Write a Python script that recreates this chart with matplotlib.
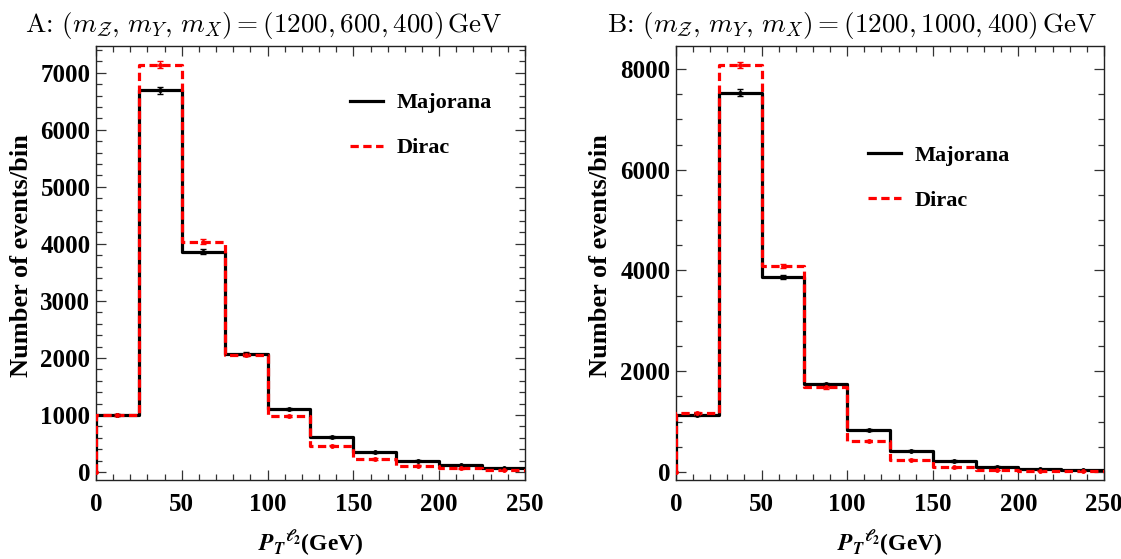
import numpy as np
import matplotlib
matplotlib.use("Agg")
import matplotlib.pyplot as plt
from matplotlib.ticker import MultipleLocator

edges = [0, 25, 50, 75, 100, 125, 150, 175, 200, 225, 250]

maj_A = [1000, 6690, 3860, 2070, 1105, 615, 345, 200, 120, 65]
dir_A = [1000, 7140, 4040, 2060, 980, 465, 230, 110, 65, 35]
maj_A_err = [25, 60, 45, 32, 24, 18, 13, 10, 8, 6]
dir_A_err = [25, 62, 46, 32, 23, 16, 11, 8, 6, 5]

maj_B = [1140, 7530, 3870, 1745, 835, 425, 218, 105, 55, 40]
dir_B = [1165, 8080, 4090, 1680, 615, 240, 95, 42, 28, 20]
maj_B_err = [25, 65, 46, 30, 22, 15, 11, 8, 6, 5]
dir_B_err = [25, 68, 47, 30, 19, 12, 8, 5, 4, 3]

titles = [r"A: $(m_{\mathcal{Z}},\, m_Y,\, m_X) = (1200, 600, 400)\,\mathrm{GeV}$",
          r"B: $(m_{\mathcal{Z}},\, m_Y,\, m_X) = (1200, 1000, 400)\,\mathrm{GeV}$"]

plt.rcParams['font.family'] = ['Liberation Serif', 'DejaVu Serif']
plt.rcParams['font.weight'] = 'bold'
plt.rcParams['axes.formatter.use_mathtext'] = False

fig = plt.figure(figsize=(11.21, 5.59), dpi=100)
axA = fig.add_axes([0.0856, 0.1413, 0.3827, 0.7764])
axB = fig.add_axes([0.6030, 0.1413, 0.3818, 0.7764])

def panel(ax, maj, dirc, merr, derr, title, ylim, ymaj, ymin, leg_anchor, ylab_x, title_x):
    e = np.array(edges, dtype=float)
    centers = (e[:-1] + e[1:]) / 2
    xs = np.concatenate([[e[0]], e])
    ym = np.concatenate([[0], maj, [maj[-1]]])
    yd = np.concatenate([[0], dirc, [dirc[-1]]])
    ax.step(xs, ym, where='post', color='black', lw=2.3, label='Majorana', zorder=3)
    ax.step(xs, yd, where='post', color='red', lw=2.3, ls=(0, (2.6, 1.4)), label='Dirac', zorder=4)
    ax.errorbar(centers, maj, yerr=merr, fmt='o', ms=2.5, color='black', capsize=2.5, elinewidth=1, zorder=5)
    ax.errorbar(centers, dirc, yerr=derr, fmt='o', ms=2.5, color='red', capsize=2.5, elinewidth=1, zorder=5)
    ax.plot([0], [0], 'o', ms=2.5, color='red', zorder=5)
    ax.set_xlim(0, 250)
    ax.set_ylim(*ylim)
    ax.xaxis.set_major_locator(MultipleLocator(50))
    ax.xaxis.set_minor_locator(MultipleLocator(10))
    ax.yaxis.set_major_locator(MultipleLocator(ymaj))
    ax.yaxis.set_minor_locator(MultipleLocator(ymin))
    ax.tick_params(which='both', direction='in', top=True, right=True, labelsize=18, width=0.9, color='#333333')
    ax.tick_params(which='major', length=7)
    ax.tick_params(which='minor', length=4)
    ax.tick_params(axis='x', pad=9)
    ax.tick_params(axis='y', pad=4)
    for lab in ax.get_xticklabels() + ax.get_yticklabels():
        lab.set_fontweight('bold')
    for s in ax.spines.values():
        s.set_linewidth(1.0)
        s.set_color('#222222')
    ax.set_ylabel('Number of events/bin', fontsize=19, fontweight='bold')
    ax.yaxis.set_label_coords(ylab_x, 0.518)
    ax.set_xlabel(r"${\mathbfit{P}_{\mathbfit{T}}}^{\ell_2}$(GeV)", fontsize=17, fontweight='bold', math_fontfamily='stix')
    ax.xaxis.set_label_coords(0.5, -0.112)
    ax.set_title(title, fontsize=19.5, fontweight='normal', loc='left', x=title_x, pad=10,
                 family='cmr10', math_fontfamily='cm')
    ax.legend(loc='upper left', bbox_to_anchor=leg_anchor, frameon=False,
              handlelength=1.5, labelspacing=1.1, handletextpad=0.6,
              borderpad=0, borderaxespad=0,
              prop={'weight': 'bold', 'size': 16, 'family': 'Liberation Serif'})

panel(axA, maj_A, dir_A, maj_A_err, dir_A_err, titles[0], (-140, 7470), 1000, 200, (0.592, 0.892), -0.147, -0.166)
panel(axB, maj_B, dir_B, maj_B_err, dir_B_err, titles[1], (-160, 8457), 2000, 500, (0.449, 0.772), -0.150, -0.161)

fig.savefig('out.png', dpi=100)
